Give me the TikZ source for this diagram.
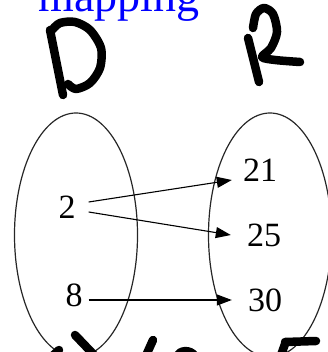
\documentclass[tikz,border=0pt]{standalone}
\usepackage{fontspec}
\setmainfont{Liberation Serif}
\usetikzlibrary{shapes.geometric,arrows.meta}
\begin{document}
\begin{tikzpicture}[x=1pt,y=-1pt,
  setshape/.style={ellipse, draw=black!85, line width=1.2pt, minimum width=123pt, minimum height=244pt, inner sep=0pt},
  num/.style={inner sep=0pt, font=\fontsize{34}{40}\selectfont},
  arr/.style={line width=1.1pt, -{Triangle[length=15pt,width=11pt]}},
  pen/.style={line width=8.5pt, line cap=round, line join=round}]
\useasboundingbox (0,0) rectangle (327,352);
\node[anchor=base, text=blue, inner sep=0pt, font=\fontsize{46}{50}\selectfont] (title) at (119,12) {mapping};
\node[setshape] (D) at (76,235) {};
\node[setshape] (R) at (270,235) {};
\node[num] (n2) at (67,207) {2};
\node[num] (n8) at (74,295) {8};
\node[num] (n21) at (260,170) {21};
\node[num] (n25) at (264,235) {25};
\node[num] (n30) at (265,300) {30};
\draw[arr] ([shift={(13,-5)}]n2.east) -- ([shift={(-11,10)}]n21.west);
\draw[arr] ([shift={(13,5)}]n2.east) -- ([shift={(-16,0)}]n25.west);
\draw[arr] ([shift={(6,5)}]n8.east) -- ([shift={(-16,0)}]n30.west);
% handwritten D
\draw[pen] (50,30) -- (63,95);
\draw[pen] plot[smooth] coordinates {(52,30) (60,23) (75,22) (90,30) (101,48) (100,68) (90,83) (76,89) (68,84)};
% handwritten R
\draw[pen] (248,38) -- (259,82);
\draw[pen] plot[smooth] coordinates {(253,28) (256,14) (264,8) (273,14) (277,32) (271,48) (262,57) (275,60) (300,62)};
% bottom strokes
\draw[pen] (75,335) -- (97,358);
\draw[pen] (48,360) -- (59,350);
\draw[pen] (153,340) -- (144,360);
\draw[pen] (177,356) .. controls (180,350) and (190,349) .. (195,356);
\draw[pen] (285,342) -- (316,341);
\draw[pen] (285,344) -- (280,358);
\end{tikzpicture}
\end{document}
